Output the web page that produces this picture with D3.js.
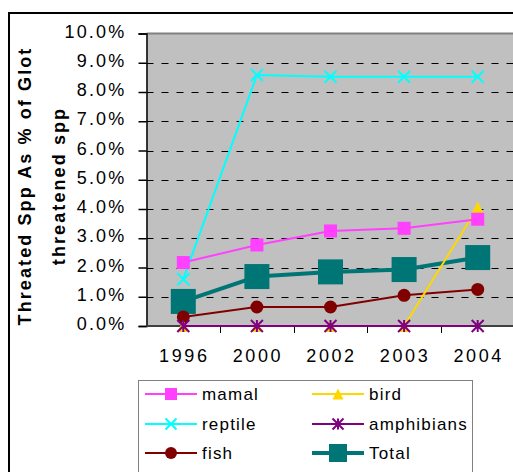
<!DOCTYPE html>
<html>
<head>
<meta charset="utf-8">
<script src="https://cdn.jsdelivr.net/npm/d3@7"></script>
<style>
  html, body { margin: 0; padding: 0; background: #fff; }
  svg { display: block; font-family: "Liberation Sans", Arial, sans-serif; }
</style>
</head>
<body>
<svg id="chart" width="513" height="472"></svg>
<script>
// Years on the category axis
const years = ["1996", "2000", "2002", "2003", "2004"];

// Threatened species as % of globally threatened species, per group
const mamal      = [2.17, 2.77, 3.25, 3.34, 3.65];
const bird       = [0, 0, 0, 0, 4.05];
const reptile    = [1.6, 8.58, 8.52, 8.52, 8.52];
const amphibians = [0, 0, 0, 0, 0];
const fish       = [0.31, 0.65, 0.65, 1.05, 1.25];
const total      = [0.84, 1.69, 1.85, 1.93, 2.34];

// Y axis ticks (percent)
const yTicks = [0, 1, 2, 3, 4, 5, 6, 7, 8, 9, 10];

const seriesNames = ["mamal", "bird", "reptile", "amphibians", "fish", "Total"];

const series = [
  { name: "mamal",      values: mamal,      color: "#FF40FF", marker: "square",   size: 13, legendSize: 12, width: 2 },
  { name: "bird",       values: bird,       color: "#FFD700", marker: "triangle", size: 12, legendSize: 11, width: 2 },
  { name: "reptile",    values: reptile,    color: "#00FFFF", marker: "cross",    size: 12, legendSize: 11, width: 2 },
  { name: "amphibians", values: amphibians, color: "#800080", marker: "star",     size: 12, legendSize: 11, width: 2 },
  { name: "fish",       values: fish,       color: "#800000", marker: "circle",   size: 13, legendSize: 12, width: 2 },
  { name: "Total",      values: total,      color: "#007575", marker: "square",   size: 25, legendSize: 18, width: 4 }
];

const svg = d3.select("#chart");

// Outer chart frame
svg.append("rect")
  .attr("x", 9).attr("y", 13)
  .attr("width", 520).attr("height", 480)
  .attr("fill", "#fff").attr("stroke", "#000").attr("stroke-width", 2);

const plot = { left: 146.5, right: 514.5, top: 33.5, bottom: 326 };

const x = d3.scaleBand().domain(years).range([plot.left, plot.right]).padding(0);
const y = d3.scaleLinear().domain([0, 10]).range([plot.bottom, plot.top]);
const cx = d => x(d) + x.bandwidth() / 2;

// Plot background
svg.append("rect")
  .attr("x", plot.left).attr("y", plot.top)
  .attr("width", plot.right - plot.left).attr("height", plot.bottom - plot.top)
  .attr("fill", "#C0C0C0");

// Dashed gridlines
svg.append("g")
  .selectAll("line")
  .data(yTicks.filter(t => t > 0 && t < 10))
  .join("line")
  .attr("x1", plot.left).attr("x2", plot.right)
  .attr("y1", d => Math.round(y(d)) + 0.5).attr("y2", d => Math.round(y(d)) + 0.5)
  .attr("stroke", "#000").attr("stroke-width", 1)
  .attr("stroke-dasharray", "7,8");

// Plot top border
svg.append("line")
  .attr("x1", plot.left).attr("x2", plot.right)
  .attr("y1", plot.top).attr("y2", plot.top)
  .attr("stroke", "#808080").attr("stroke-width", 2);

// Y axis
const yAxis = svg.append("g")
  .attr("transform", `translate(${plot.left},0)`)
  .call(d3.axisLeft(y).tickValues(yTicks).tickSize(8).tickPadding(12)
    .tickFormat(d => d3.format(".1f")(d) + "%"));
yAxis.select(".domain").attr("stroke", "#000").attr("stroke-width", 1.5);
yAxis.selectAll(".tick line").attr("stroke", "#000").attr("stroke-width", 1.5);
yAxis.selectAll(".tick text")
  .attr("font-family", "Liberation Sans, Arial, sans-serif")
  .attr("font-size", 18).attr("fill", "#000")
  .attr("letter-spacing", "2.2px")
  .attr("dy", "0.2em");

// X axis baseline and tick marks at category boundaries
svg.append("line")
  .attr("x1", plot.left).attr("x2", plot.right)
  .attr("y1", plot.bottom).attr("y2", plot.bottom)
  .attr("stroke", "#404040").attr("stroke-width", 2);

const boundaries = years.map(d => x(d)).concat([x(years[years.length - 1]) + x.bandwidth()]);
svg.append("g")
  .selectAll("line")
  .data(boundaries.slice(1))
  .join("line")
  .attr("x1", d => Math.round(d) + 0.5).attr("x2", d => Math.round(d) + 0.5)
  .attr("y1", plot.bottom).attr("y2", plot.bottom + 7)
  .attr("stroke", "#000").attr("stroke-width", 1);

svg.append("g")
  .selectAll("text")
  .data(years)
  .join("text")
  .attr("x", d => cx(d) + 1)
  .attr("y", 362)
  .attr("text-anchor", "middle")
  .attr("font-size", 18)
  .attr("letter-spacing", "2.6px")
  .attr("fill", "#000")
  .text(d => d);

// Y axis title (two lines, rotated)
const titleLines = ["Threated Spp As % of Glot", "threatened spp"];
const titleBaselines = [31, 65];
svg.append("g")
  .selectAll("text")
  .data(titleLines)
  .join("text")
  .attr("transform", (d, i) => `translate(${titleBaselines[i]},186) rotate(-90)`)
  .attr("text-anchor", "middle")
  .attr("font-size", 18)
  .attr("font-weight", "bold")
  .attr("letter-spacing", "2.1px")
  .attr("fill", "#000")
  .text(d => d);

// Marker drawing
function drawMarker(g, type, size, color) {
  const h = size / 2;
  if (type === "square") {
    g.append("rect").attr("x", -h).attr("y", -h).attr("width", size).attr("height", size).attr("fill", color);
  } else if (type === "circle") {
    g.append("circle").attr("r", h).attr("fill", color);
  } else if (type === "triangle") {
    g.append("path").attr("d", `M0,${-h}L${h},${h}L${-h},${h}Z`).attr("fill", color);
  } else if (type === "cross") {
    g.append("path").attr("d", `M${-h},${-h}L${h},${h}M${h},${-h}L${-h},${h}`)
      .attr("stroke", color).attr("stroke-width", 2).attr("fill", "none");
  } else if (type === "star") {
    g.append("path").attr("d", `M${-h},${-h}L${h},${h}M${h},${-h}L${-h},${h}M0,${-h}L0,${h}`)
      .attr("stroke", color).attr("stroke-width", 2).attr("fill", "none");
  }
}

const line = d3.line().x((d, i) => cx(years[i])).y(d => y(d));

// Drawing order (back to front)
const order = ["Total", "fish", "reptile", "bird", "amphibians", "mamal"];
const seriesLayer = svg.append("g");
order.forEach(name => {
  const s = series.find(t => t.name === name);
  const g = seriesLayer.append("g");
  g.append("path")
    .datum(s.values)
    .attr("d", line)
    .attr("fill", "none")
    .attr("stroke", s.color)
    .attr("stroke-width", s.width)
    .attr("stroke-linejoin", "round");
  s.values.forEach((v, i) => {
    const m = g.append("g").attr("transform", `translate(${cx(years[i])},${y(v)})`);
    drawMarker(m, s.marker, s.size, s.color);
  });
});

// Legend
const legend = svg.append("g");
legend.append("rect")
  .attr("x", 138.5).attr("y", 380.5)
  .attr("width", 334).attr("height", 110)
  .attr("fill", "#fff").attr("stroke", "#808080").attr("stroke-width", 1);

const colX = [145, 312];
const rowY = [394, 424, 453];
seriesNames.forEach((name, i) => {
  const s = series.find(t => t.name === name);
  const col = i % 2, row = Math.floor(i / 2);
  const g = legend.append("g").attr("transform", `translate(${colX[col]},${rowY[row]})`);
  g.append("line").attr("x1", 0).attr("x2", 52).attr("y1", 0).attr("y2", 0)
    .attr("stroke", s.color).attr("stroke-width", s.width);
  const m = g.append("g").attr("transform", "translate(26,0)");
  drawMarker(m, s.marker, s.legendSize, s.color);
  g.append("text")
    .attr("x", 57).attr("y", 6)
    .attr("font-size", 17)
    .attr("letter-spacing", "1.2px")
    .attr("fill", "#000")
    .text(name);
});
</script>
</body>
</html>
